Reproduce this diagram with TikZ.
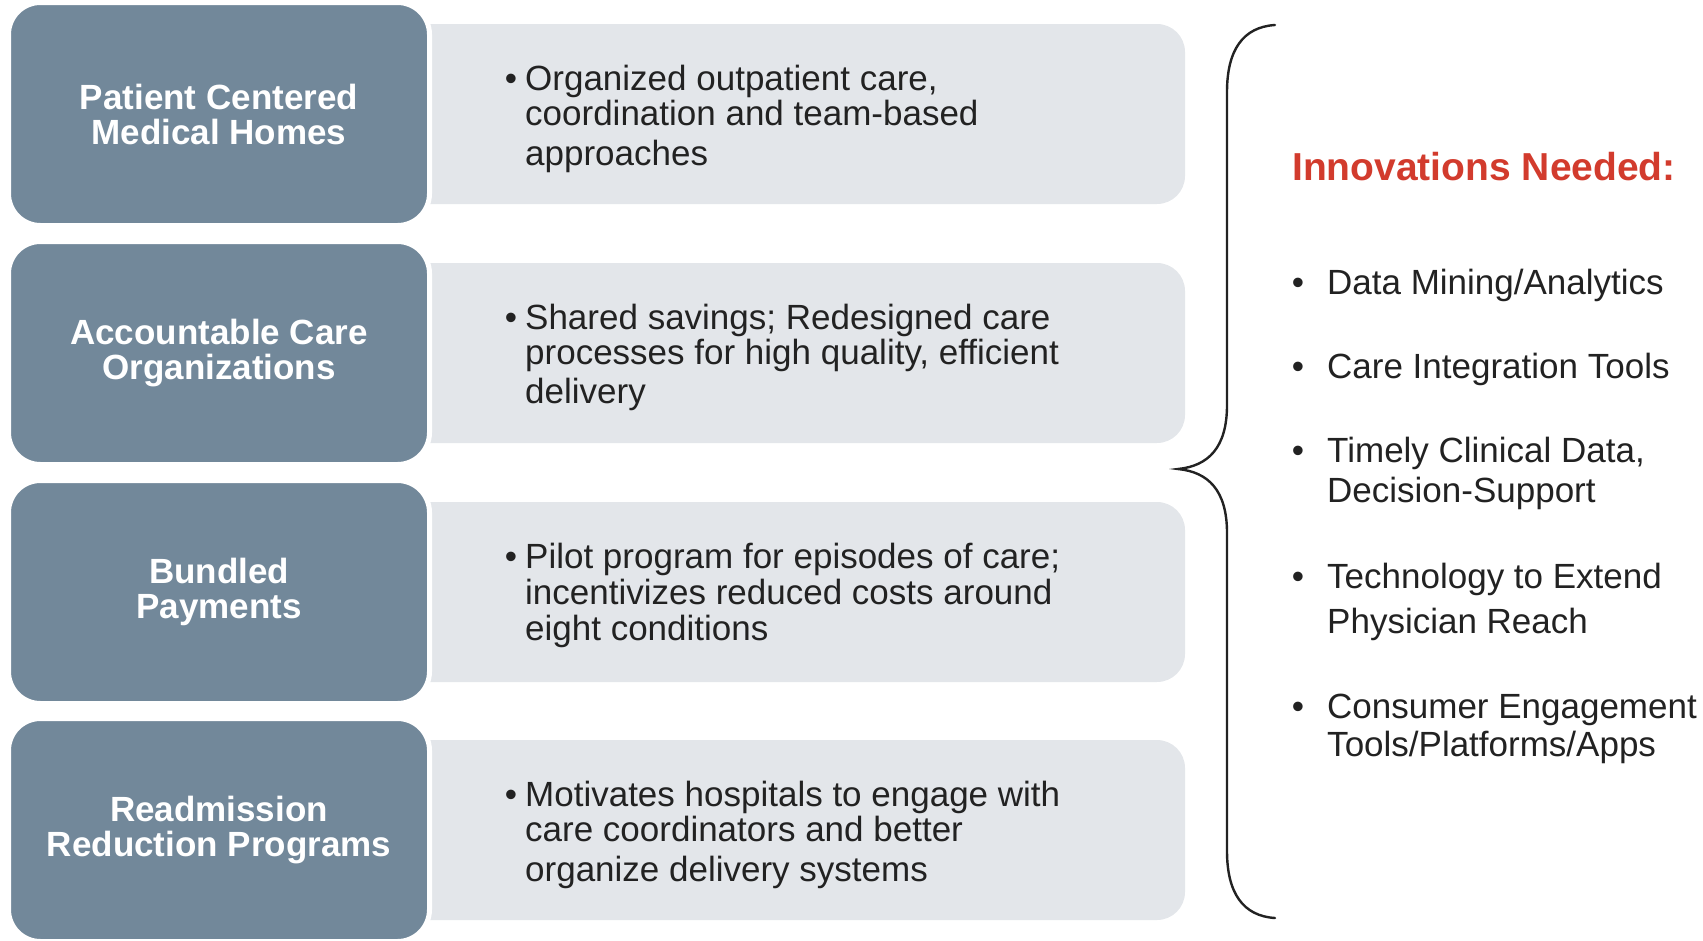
\documentclass[tikz,border=0pt]{standalone}
\usepackage{fontspec}
\setmainfont{Liberation Sans}
\definecolor{slate}{HTML}{72889A}
\definecolor{pale}{HTML}{E3E6EA}
\definecolor{innov}{HTML}{D23B2D}
\definecolor{ink}{HTML}{222222}
\tikzset{
  catbox/.style={fill=slate, draw=white, line width=5pt, rounded corners=32pt,
    minimum width=421pt, minimum height=223pt, inner sep=0pt,
    text=white, align=center, font=\bfseries\fontsize{35}{35}\selectfont},
  infobox/.style={fill=pale, draw=none, rounded corners=28pt,
    minimum width=785pt, minimum height=180pt, inner sep=0pt},
  desc/.style={anchor=base west, inner sep=0pt, text=ink, font=\fontsize{35}{35}\selectfont},
  need/.style={anchor=base west, inner sep=0pt, text=ink, font=\fontsize{35}{35}\selectfont},
  bracepath/.style={draw=ink, line width=2.4pt, line cap=round},
}
\newcommand{\dbul}{\llap{•\hspace{8pt}}}
\newcommand{\rbul}{\llap{•\hspace{23pt}}}
\begin{document}
\begin{tikzpicture}[x=1pt,y=-1pt]
\useasboundingbox (0,0) rectangle (1703,940);
% light description panels (left part hidden under the category boxes)
\node[infobox] (i1) at (792.5,114) {};
\node[infobox] (i2) at (792.5,353) {};
\node[infobox] (i3) at (792.5,592) {};
\node[infobox] (i4) at (792.5,830) {};
% category boxes
\node[catbox] (c1) at (219,114) {Patient Centered\\Medical Homes};
\node[catbox] (c2) at (219,353) {Accountable Care\\Organizations};
\node[catbox] (c3) at (219,592) {Bundled\\Payments};
\node[catbox] (c4) at (219,830) {Readmission\\Reduction Programs};
% descriptions
\node[desc] (d1a) at (525,90) {\dbul Organized outpatient care,};
\node[desc] (d1b) at (525,125) {coordination and team-based};
\node[desc] (d1c) at (525,165) {approaches};
\node[desc] (d2a) at (525,329) {\dbul Shared savings; Redesigned care};
\node[desc] (d2b) at (525,364) {processes for high quality, efficient};
\node[desc] (d2c) at (525,403) {delivery};
\node[desc] (d3a) at (525,568) {\dbul Pilot program for episodes of care;};
\node[desc] (d3b) at (525,604) {incentivizes reduced costs around};
\node[desc] (d3c) at (525,640) {eight conditions};
\node[desc] (d4a) at (525,806) {\dbul Motivates hospitals to engage with};
\node[desc] (d4b) at (525,841) {care coordinators and better};
\node[desc] (d4c) at (525,881) {organize delivery systems};
% brace
\coordinate (bt) at (1275,25);
\coordinate (btip) at (1178,469);
\coordinate (bb) at (1275,918);
\draw[bracepath] (bt) .. controls (1243,27) and (1227,50) .. (1227,92)
  -- (1227,405) .. controls (1227,448) and (1208,466) .. (btip)
  .. controls (1208,472) and (1227,490) .. (1227,533)
  -- (1227,851) .. controls (1227,893) and (1243,916) .. (bb);
% innovations
\node[anchor=base west, inner sep=0pt, text=innov, font=\bfseries\fontsize{39}{39}\selectfont] (title) at (1292,180) {Innovations Needed:};
\node[need] (r1) at (1327,294.5) {\rbul Data Mining/Analytics};
\node[need] (r2) at (1327,378.5) {\rbul Care Integration Tools};
\node[need] (r3a) at (1327,462.5) {\rbul Timely Clinical Data,};
\node[need] (r3b) at (1327,502.5) {Decision-Support};
\node[need] (r4a) at (1327,588.5) {\rbul Technology to Extend};
\node[need] (r4b) at (1327,633.5) {Physician Reach};
\node[need] (r5a) at (1327,718.5) {\rbul Consumer Engagement};
\node[need] (r5b) at (1327,756.5) {Tools/Platforms/Apps};
\end{tikzpicture}
\end{document}
